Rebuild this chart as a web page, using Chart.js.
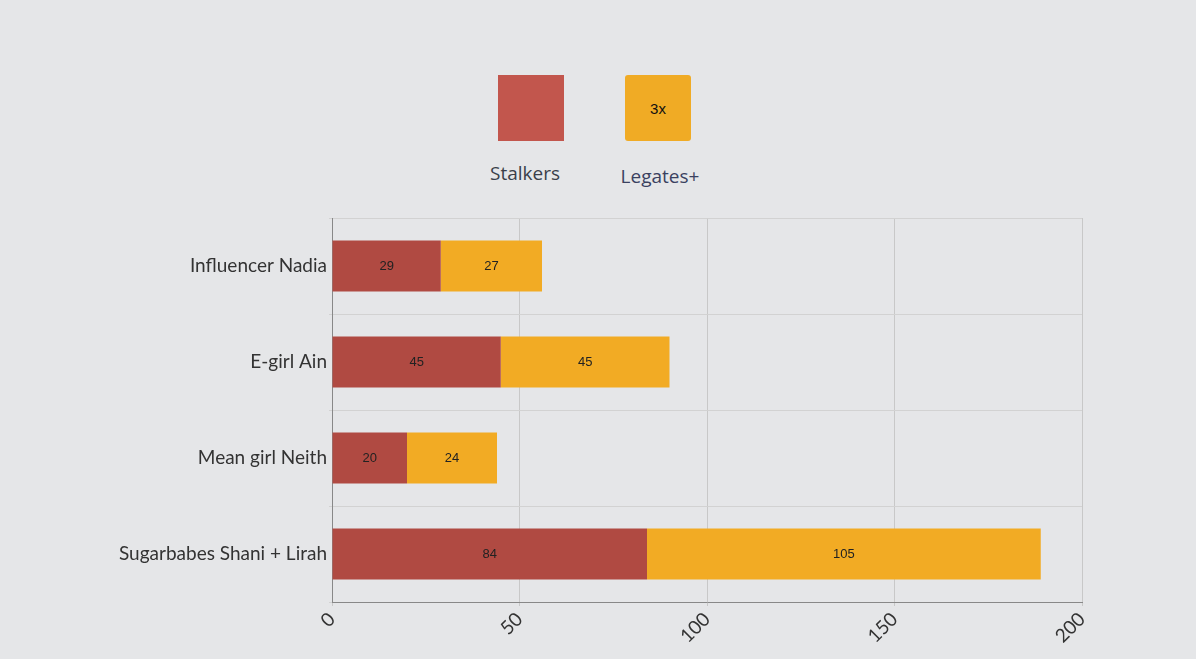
<!DOCTYPE html>
<html>
<head>
<meta charset="utf-8">
<script src="https://cdn.jsdelivr.net/npm/chart.js@4"></script>
<style>
  body { margin: 0; background: #e5e6e8; width: 1196px; height: 659px; overflow: hidden; position: relative; }
  #wrap { position: absolute; left: 0; top: 0; width: 1196px; height: 659px; }
  .lg { position: absolute; font-family: "Open Sans", sans-serif; font-size: 19px; color: #3a3f4a; text-align: center; }
  .box { position: absolute; width: 66px; height: 66px; }
</style>
</head>
<body>
<div class="box" style="left:498px;top:75px;background:#c2564d"></div>
<div class="box" style="left:625px;top:75px;background:#f0ab25;border-radius:3px;display:flex;align-items:center;justify-content:center;font:15px Arial, sans-serif;color:#111">3x</div>
<div class="lg" style="left:470px;top:160px;width:110px">Stalkers</div>
<div class="lg" style="left:600px;top:163px;width:120px;color:#3a4160">Legates+</div>
<div id="wrap"><canvas id="c" width="1196" height="659"></canvas></div>
<script>
// dane wykresu
const categories = ['Influencer Nadia', 'E-girl Ain', 'Mean girl Neith', 'Sugarbabes Shani + Lirah'];
const stalkers = [29, 45, 20, 84];
const legates = [27, 45, 24, 105];
const xTicks = [0, 50, 100, 150, 200];

// etykiety w środku słupków
const barLabels = {
    id: 'barLabels',
    afterDatasetsDraw(chart) {
        const ctx = chart.ctx;
        ctx.save();
        ctx.font = '13px Arial, sans-serif';
        ctx.fillStyle = '#222';
        ctx.textAlign = 'center';
        ctx.textBaseline = 'middle';
        chart.data.datasets.forEach((ds, i) => {
            chart.getDatasetMeta(i).data.forEach((bar, j) => {
                ctx.fillText(ds.data[j], (bar.x + bar.base) / 2, bar.y);
            });
        });
        ctx.restore();
    }
};

new Chart(document.getElementById('c'), {
    type: 'bar',
    data: {
        labels: categories,
        datasets: [
            { label: 'Stalkers', data: stalkers, backgroundColor: '#b04a42' },
            { label: 'Legates+', data: legates, backgroundColor: '#f2ab24' }
        ]
    },
    options: {
        indexAxis: 'y',
        responsive: false,
        animation: false,
        layout: { padding: { top: 218, right: 114 } },
        plugins: { legend: { display: false }, tooltip: { enabled: false } },
        datasets: { bar: { categoryPercentage: 1, barPercentage: 0.53 } },
        scales: {
            x: {
                stacked: true, min: 0, max: 200,
                afterBuildTicks: s => { s.ticks = xTicks.map(v => ({ value: v })); },
                afterFit: s => { s.height = 57; },
                grid: { color: '#c8c8c8', tickLength: 4, tickColor: '#c8c8c8' },
                border: { color: '#888' },
                ticks: { maxRotation: 45, minRotation: 45, color: '#333', font: { family: 'Lato, sans-serif', size: 19 }, padding: 2 }
            },
            y: {
                stacked: true,
                afterFit: s => { s.width = 332; },
                grid: { color: '#d2d2d2', offset: true, tickLength: 3 },
                border: { color: '#888' },
                ticks: { color: '#333', font: { family: 'Lato, sans-serif', size: 19 }, padding: 2 }
            }
        }
    },
    plugins: [barLabels]
});
</script>
</body>
</html>
